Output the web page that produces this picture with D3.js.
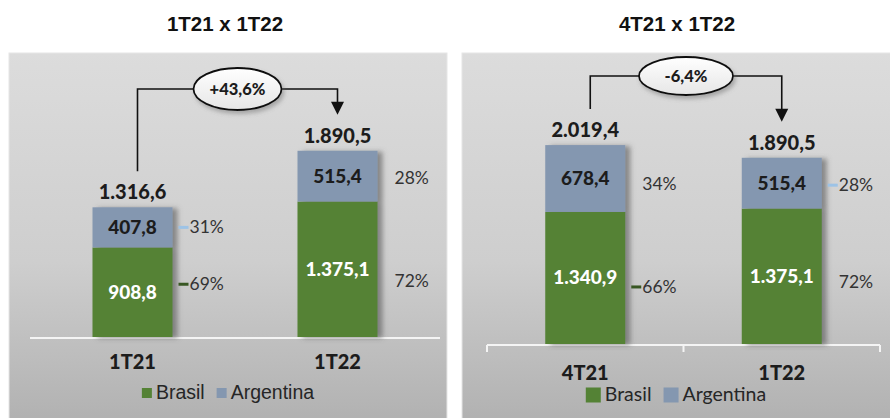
<!DOCTYPE html>
<html>
<head>
<meta charset="utf-8">
<script src="https://cdn.jsdelivr.net/npm/d3@7"></script>
<style>
  body { margin: 0; background: #fff; }
  svg { display: block; }
</style>
</head>
<body>
<svg id="chart" width="890" height="418"></svg>
<script>
// data
const titles = ["1T21 x 1T22", "4T21 x 1T22"];
const seriesNames = ["Brasil", "Argentina"];

const periodsA = ["1T21", "1T22"];
const brasilA = [908.8, 1375.1];
const argentinaA = [407.8, 515.4];
const totalsA = [1316.6, 1890.5];
const shareBrA = [69, 72];
const shareArA = [31, 28];
const changeA = "+43,6%";

const periodsB = ["4T21", "1T22"];
const brasilB = [1340.9, 1375.1];
const argentinaB = [678.4, 515.4];
const totalsB = [2019.4, 1890.5];
const shareBrB = [66, 72];
const shareArB = [34, 28];
const changeB = "-6,4%";

// which % labels get a small leader dash
const leaderBrA = [true, false], leaderArA = [true, false];
const leaderBrB = [true, false], leaderArB = [false, true];

const green = "#548235", blue = "#8497b0";
const fmt = d3.formatLocale({decimal: ",", thousands: ".", grouping: [3], currency: ["", ""]}).format(",.1f");

var svg = d3.select("#chart");
var defs = svg.append("defs");

var bg = defs.append("linearGradient").attr("id", "bg").attr("x1", 0).attr("y1", 0).attr("x2", 0).attr("y2", 1);
bg.append("stop").attr("offset", "0%").attr("stop-color", "#dcdcdc");
bg.append("stop").attr("offset", "55%").attr("stop-color", "#cecece");
bg.append("stop").attr("offset", "100%").attr("stop-color", "#afafaf");

var eg = defs.append("linearGradient").attr("id", "eg").attr("x1", 0).attr("y1", 0).attr("x2", 0).attr("y2", 1);
eg.append("stop").attr("offset", "0%").attr("stop-color", "#ffffff");
eg.append("stop").attr("offset", "100%").attr("stop-color", "#e6e6e6");

defs.append("filter").attr("id", "shadow").attr("x", "-20%").attr("y", "-10%").attr("width", "150%").attr("height", "120%")
  .append("feDropShadow").attr("dx", 5).attr("dy", 1).attr("stdDeviation", 2.5)
  .attr("flood-color", "#555").attr("flood-opacity", 0.6);

defs.append("filter").attr("id", "eshadow").attr("x", "-20%").attr("y", "-30%").attr("width", "150%").attr("height", "170%")
  .append("feDropShadow").attr("dx", 2).attr("dy", 3).attr("stdDeviation", 2)
  .attr("flood-color", "#666").attr("flood-opacity", 0.45);

// layout per panel (pctDy = nudges of the % labels, as placed in the original)
const panels = [
  {title: titles[0], periods: periodsA, brasil: brasilA, argentina: argentinaA, totals: totalsA,
   shareBr: shareBrA, shareAr: shareArA, change: changeA, leadBr: leaderBrA, leadAr: leaderArA,
   pctDyBr: [-8, 12], pctDyAr: [0, 2],
   x0: 9, x1: 447, axis: [30, 440], base: 337, bracketY: 89, rx: 44, ry: 21, ticks: false,
   titleX: 225, catY: 369, legY: 399, legFont: "'Liberation Sans', Arial, sans-serif", legSq: 10},
  {title: titles[1], periods: periodsB, brasil: brasilB, argentina: argentinaB, totals: totalsB,
   shareBr: shareBrB, shareAr: shareArB, change: changeB, leadBr: leaderBrB, leadAr: leaderArB,
   pctDyBr: [9, 6], pctDyAr: [5, 2],
   x0: 462, x1: 895, axis: [487, 880], base: 344, bracketY: 76, rx: 47, ry: 19, ticks: true,
   titleX: 677, catY: 380, legY: 401, legFont: "Lato, sans-serif", legSq: 15}
];

const barW = 80;
const lato = "Lato, sans-serif";

panels.forEach(function(p) {
  var g = svg.append("g");

  // title
  svg.append("text")
    .attr("x", p.titleX).attr("y", 31)
    .attr("text-anchor", "middle")
    .attr("font-family", "'Liberation Sans', Arial, sans-serif")
    .attr("font-weight", "bold").attr("font-size", "20.5px")
    .attr("fill", "#111")
    .text(p.title);

  // panel background
  g.append("rect")
    .attr("x", p.x0).attr("y", 53)
    .attr("width", p.x1 - p.x0).attr("height", 380)
    .attr("fill", "url(#bg)")
    .attr("stroke", "#e6e6e6").attr("stroke-width", 1);

  var x = d3.scalePoint().domain(p.periods).range(p.axis).padding(0.5);
  var y = d3.scaleLinear().domain([0, 2000]).range([p.base, p.base - 197]);

  var rows = p.periods.map(function(d, i) {
    return {period: d, Brasil: p.brasil[i], Argentina: p.argentina[i], i: i};
  });
  var stack = d3.stack().keys(seriesNames)(rows);

  // axis line
  g.append("line")
    .attr("x1", p.axis[0]).attr("x2", p.axis[1])
    .attr("y1", p.base + 1).attr("y2", p.base + 1)
    .attr("stroke", "#f4f4f4").attr("stroke-width", 2);
  if (p.ticks) {
    var tk = [p.axis[0], (p.axis[0] + p.axis[1]) / 2, p.axis[1]];
    g.selectAll(".tick").data(tk).enter().append("line")
      .attr("x1", function(d) { return d; }).attr("x2", function(d) { return d; })
      .attr("y1", p.base + 1).attr("y2", p.base + 8)
      .attr("stroke", "#f4f4f4").attr("stroke-width", 2);
  }

  // bars
  var bars = g.selectAll(".bar").data(rows).enter().append("g")
    .attr("filter", "url(#shadow)");
  bars.each(function(r) {
    var bg2 = d3.select(this);
    stack.forEach(function(s, k) {
      var seg = s[r.i];
      bg2.append("rect")
        .attr("x", x(r.period) - barW / 2)
        .attr("y", y(seg[1]))
        .attr("width", barW)
        .attr("height", y(seg[0]) - y(seg[1]))
        .attr("fill", k === 0 ? green : blue);
    });
  });

  // values inside segments, shares beside them
  stack.forEach(function(s, k) {
    g.selectAll(".val" + k).data(s).enter().append("text")
      .attr("x", function(d, i) { return x(p.periods[i]); })
      .attr("y", function(d) { return (y(d[0]) + y(d[1])) / 2 + 6.5; })
      .attr("text-anchor", "middle")
      .attr("font-family", lato).attr("font-weight", "900").attr("font-size", "19px")
      .attr("fill", k === 0 ? "#ffffff" : "#1c1c1c")
      .text(function(d, i) { return fmt(k === 0 ? p.brasil[i] : p.argentina[i]); });

    var shares = k === 0 ? p.shareBr : p.shareAr;
    var leads = k === 0 ? p.leadBr : p.leadAr;
    var dys = k === 0 ? p.pctDyBr : p.pctDyAr;
    g.selectAll(".pct" + k).data(s).enter().append("text")
      .attr("x", function(d, i) { return x(p.periods[i]) + barW / 2 + 17; })
      .attr("y", function(d, i) { return (y(d[0]) + y(d[1])) / 2 + dys[i] + 6; })
      .attr("font-family", lato).attr("font-size", "17.5px")
      .attr("fill", "#333")
      .text(function(d, i) { return shares[i] + "%"; });
    g.selectAll(".lead" + k).data(s.filter(function(d, i) { return leads[i]; })).enter().append("line")
      .attr("x1", function(d) { return x(d.data.period) + barW / 2 + 6; })
      .attr("x2", function(d) { return x(d.data.period) + barW / 2 + 16; })
      .attr("y1", function(d) { return (y(d[0]) + y(d[1])) / 2 + dys[d.data.i]; })
      .attr("y2", function(d) { return (y(d[0]) + y(d[1])) / 2 + dys[d.data.i]; })
      .attr("stroke", k === 0 ? "#385723" : "#9dc3e6").attr("stroke-width", 3);
  });

  // totals
  g.selectAll(".tot").data(rows).enter().append("text")
    .attr("x", function(d) { return x(d.period); })
    .attr("y", function(d, i) { return y(p.totals[i]) - 8; })
    .attr("text-anchor", "middle")
    .attr("font-family", lato).attr("font-weight", "900").attr("font-size", "20px")
    .attr("fill", "#1c1c1c")
    .text(function(d, i) { return fmt(p.totals[i]); });

  // category labels
  g.selectAll(".cat").data(p.periods).enter().append("text")
    .attr("x", function(d) { return x(d); })
    .attr("y", p.catY)
    .attr("text-anchor", "middle")
    .attr("font-family", lato).attr("font-weight", "900").attr("font-size", "20px")
    .attr("fill", "#1c1c1c")
    .text(function(d) { return d; });

  // connector with change bubble
  var xa = x(p.periods[0]) + 5, xb = x(p.periods[1]);
  var ya = y(p.totals[0]) - 36, yb = y(p.totals[1]) - 36;
  var cx = (xa + xb) / 2;
  g.append("path")
    .attr("d", "M" + xa + "," + ya + "V" + p.bracketY + "H" + xb + "V" + (yb - 12))
    .attr("fill", "none").attr("stroke", "#111").attr("stroke-width", 1.6);
  g.append("path")
    .attr("d", "M" + (xb - 6.5) + "," + (yb - 13) + "L" + (xb + 6.5) + "," + (yb - 13) + "L" + xb + "," + yb + "Z")
    .attr("fill", "#111");
  g.append("ellipse")
    .attr("cx", cx).attr("cy", p.bracketY)
    .attr("rx", p.rx).attr("ry", p.ry)
    .attr("fill", "url(#eg)").attr("stroke", "#111").attr("stroke-width", 1.8)
    .attr("filter", "url(#eshadow)");
  g.append("text")
    .attr("x", cx).attr("y", p.bracketY + 5.5)
    .attr("text-anchor", "middle")
    .attr("font-family", lato).attr("font-weight", "900").attr("font-size", "16.5px")
    .attr("fill", "#1c1c1c")
    .text(p.change);

  // legend
  var legX = (p.x0 + Math.min(p.x1, 890)) / 2;
  var leg = g.append("g").attr("font-family", p.legFont).attr("font-size", "19.5px").attr("fill", "#262626");
  var t1 = leg.append("text").attr("y", p.legY).text(seriesNames[0]);
  var t2 = leg.append("text").attr("y", p.legY).text(seriesNames[1]);
  var w1 = t1.node().getComputedTextLength(), w2 = t2.node().getComputedTextLength();
  var sq = p.legSq, gapSq = 4, gapItem = 12;
  var total = sq + gapSq + w1 + gapItem + sq + gapSq + w2;
  var lx = legX - total / 2;
  leg.append("rect").attr("x", lx).attr("y", p.legY - 5 - sq / 2 - 1).attr("width", sq).attr("height", sq).attr("fill", green);
  t1.attr("x", lx + sq + gapSq);
  var lx2 = lx + sq + gapSq + w1 + gapItem;
  leg.append("rect").attr("x", lx2).attr("y", p.legY - 5 - sq / 2 - 1).attr("width", sq).attr("height", sq).attr("fill", blue);
  t2.attr("x", lx2 + sq + gapSq);
});
</script>
</body>
</html>
